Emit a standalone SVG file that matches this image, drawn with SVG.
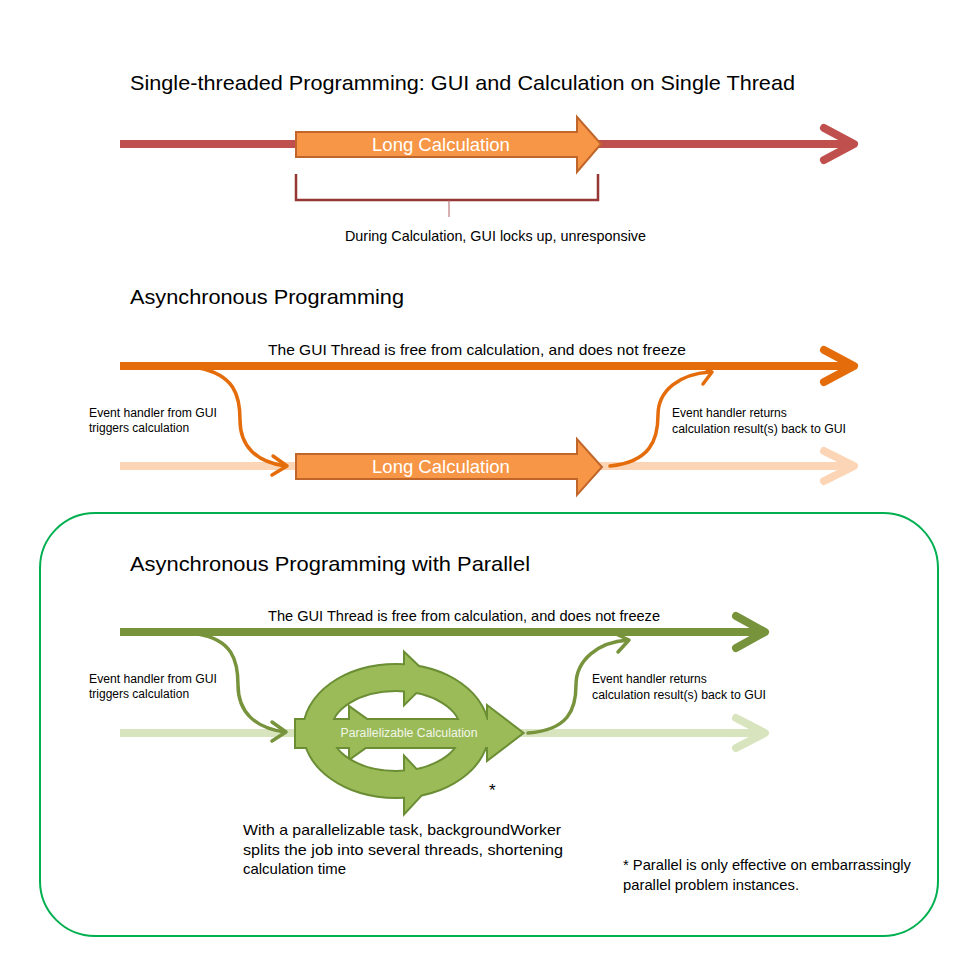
<svg xmlns="http://www.w3.org/2000/svg" xmlns:xlink="http://www.w3.org/1999/xlink" width="960" height="960" viewBox="0 0 960 960">
<style>
text{font-family:"Liberation Sans",Arial,sans-serif;fill:#000}
.title{font-size:21px}
.lbl{font-size:12px}
.mid{font-size:14.5px}
.thick{fill:none;stroke-width:8;stroke-linecap:round;stroke-linejoin:round}
.thin{fill:none;stroke-width:3.5;stroke-linecap:round;stroke-linejoin:round}
.calc{fill:#F79646;stroke:#C0662A;stroke-width:2}
.calctxt{font-size:18.5px;fill:#fff;text-anchor:middle}
</style>
<defs>
<g id="par">
<path fill-rule="evenodd" d="M304,731 a92,66 0 1,0 184,0 a92,66 0 1,0 -184,0 Z M330,731 a66,41 0 1,0 132,0 a66,41 0 1,0 -132,0 Z"/>
<polygon points="405,654 430,678 405,703"/>
<polygon points="405,758 430,785 405,812"/>
<polygon points="350,708 385,733 350,758"/>
<rect x="296" y="720" width="192" height="27"/>
<polygon points="488,707 522,733 488,759"/>
</g>
</defs>
<rect width="960" height="960" fill="#fff"/>

<g id="section1">
<text class="title" x="130" y="90" textLength="665" lengthAdjust="spacingAndGlyphs">Single-threaded Programming: GUI and Calculation on Single Thread</text>
</g>
<g id="section2title">
<text class="title" x="130" y="304" textLength="274" lengthAdjust="spacingAndGlyphs">Asynchronous Programming</text>
</g>
<g id="section3">
<rect x="40" y="513" width="898" height="423" rx="55" fill="none" stroke="#00B050" stroke-width="2"/>
<text class="title" x="130" y="571" textLength="400" lengthAdjust="spacingAndGlyphs">Asynchronous Programming with Parallel</text>
</g>

<g id="connectors">
<line class="thick" x1="120" y1="144" x2="852" y2="144" stroke="#C0504D" style="stroke-linecap:butt"/>
<polyline class="thick" points="824,128 854,144 824,160" stroke="#C0504D"/>
<line class="thick" x1="120" y1="366" x2="852" y2="366" stroke="#E46C0A" style="stroke-linecap:butt"/>
<polyline class="thick" points="824,350 854,366 824,382" stroke="#E46C0A"/>
<line class="thick" x1="120" y1="466" x2="852" y2="466" stroke="#FBD5B5" style="stroke-linecap:butt"/>
<polyline class="thick" points="824,451 854,466 824,481" stroke="#FBD5B5"/>
<path class="thin" d="M199,368 C234,375 240,395 240,420 C240,446 256,462 285,466" stroke="#E46C0A"/>
<polyline class="thin" points="273,456 287,466 272,475" stroke="#E46C0A"/>
<path class="thin" d="M610,466 C650,462 658,440 658,415 C658,390 680,374 710,372" stroke="#E46C0A"/>
<polyline class="thin" points="699,365 712,372 703,384" stroke="#E46C0A"/>
<line class="thick" x1="120" y1="632" x2="763" y2="632" stroke="#77933C" style="stroke-linecap:butt"/>
<polyline class="thick" points="736,616 765,632 736,648" stroke="#77933C"/>
<line class="thick" x1="120" y1="733" x2="763" y2="733" stroke="#D7E4BD" style="stroke-linecap:butt"/>
<polyline class="thick" points="736,718 765,733 736,748" stroke="#D7E4BD"/>
<path class="thin" d="M198,634 C232,640 238,660 238,685 C238,712 255,728 285,732" stroke="#77933C"/>
<polyline class="thin" points="272,722 286,732 272,741" stroke="#77933C"/>
<path class="thin" d="M528,733 C568,730 576,710 576,685 C576,660 598,642 628,640" stroke="#77933C"/>
<polyline class="thin" points="616,634 629,640 618,652" stroke="#77933C"/>
</g>

<g id="calc1">
<polygon class="calc" points="296,132 577,132 577,117 601,144 577,172 577,157 296,157"/>
<text class="calctxt" x="441" y="151">Long Calculation</text>
</g>
<g id="bracket1">
<polyline points="296,174 296,200 598,200 598,174" fill="none" stroke="#953735" stroke-width="2.5"/>
<line x1="449" y1="200" x2="449" y2="217" stroke="#B06060" stroke-width="1"/>
<text class="mid" x="345" y="241" textLength="301" lengthAdjust="spacingAndGlyphs">During Calculation, GUI locks up, unresponsive</text>
</g>

<g id="calc2">
<polygon class="calc" points="296,454 577,454 577,439 602,467 577,495 577,479 296,479"/>
<text class="calctxt" x="441" y="473">Long Calculation</text>
</g>
<g id="labels2">
<text class="mid" x="268" y="355" textLength="418" lengthAdjust="spacingAndGlyphs">The GUI Thread is free from calculation, and does not freeze</text>
<text class="lbl" x="89" y="417" textLength="128" lengthAdjust="spacingAndGlyphs">Event handler from GUI</text>
<text class="lbl" x="89" y="432">triggers calculation</text>
<text class="lbl" x="672" y="417">Event handler returns</text>
<text class="lbl" x="672" y="433" textLength="174" lengthAdjust="spacingAndGlyphs">calculation result(s) back to GUI</text>
</g>

<g id="parallel">
<use xlink:href="#par" fill="#6B8E35" stroke="#6B8E35" stroke-width="4" stroke-linejoin="miter"/>
<use xlink:href="#par" fill="#9BBB59"/>
<text x="409" y="737" font-size="12" text-anchor="middle" textLength="137" lengthAdjust="spacingAndGlyphs" style="fill:#F2F6EA">Parallelizable Calculation</text>
<text x="489" y="796" font-size="17">*</text>
</g>
<g id="labels3">
<text class="mid" x="268" y="621" textLength="392" lengthAdjust="spacingAndGlyphs">The GUI Thread is free from calculation, and does not freeze</text>
<text class="lbl" x="89" y="683" textLength="128" lengthAdjust="spacingAndGlyphs">Event handler from GUI</text>
<text class="lbl" x="89" y="698">triggers calculation</text>
<text class="lbl" x="592" y="683">Event handler returns</text>
<text class="lbl" x="592" y="699" textLength="174" lengthAdjust="spacingAndGlyphs">calculation result(s) back to GUI</text>
<text class="mid" x="243" y="835" textLength="318" lengthAdjust="spacingAndGlyphs">With a parallelizable task, backgroundWorker</text>
<text class="mid" x="243" y="855" textLength="320" lengthAdjust="spacingAndGlyphs">splits the job into several threads, shortening</text>
<text class="mid" x="243" y="874" textLength="103" lengthAdjust="spacingAndGlyphs">calculation time</text>
<text class="mid" x="623" y="870" textLength="288" lengthAdjust="spacingAndGlyphs">* Parallel is only effective on embarrassingly</text>
<text class="mid" x="623" y="890" textLength="176" lengthAdjust="spacingAndGlyphs">parallel problem instances.</text>
</g>
</svg>
